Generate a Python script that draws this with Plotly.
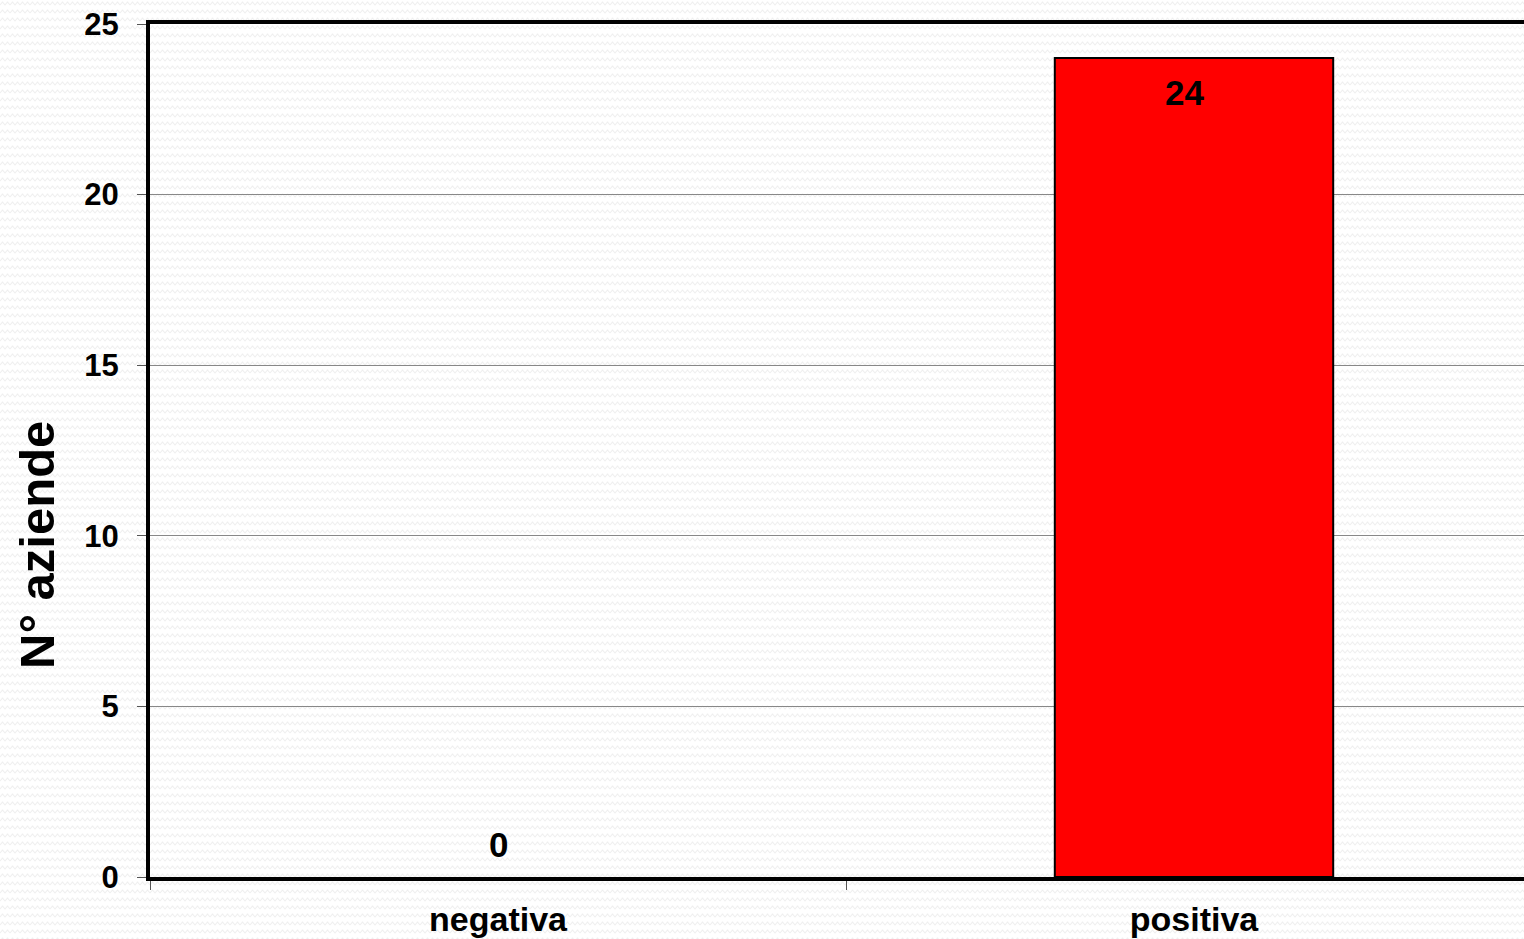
import base64
import plotly.graph_objects as go

categories = ["negativa", "positiva"]
values = [0, 24]
y_ticks = [0, 5, 10, 15, 20, 25]
y_title = "N° aziende"

W, H = 1524, 939
L, R, T, B = 150, 0, 24, 62
pw, ph = W - L - R, H - T - B

# faint zigzag background texture
svg = (
    '<svg xmlns="http://www.w3.org/2000/svg" width="1524" height="939">'
    '<defs><pattern id="p" width="10" height="8" patternUnits="userSpaceOnUse">'
    '<rect width="10" height="8" fill="#ffffff"/>'
    '<path d="M0 5 L2.5 2 L5 5 L7.5 2 L10 5" fill="none" stroke="#efefef" stroke-width="1.1"/>'
    '</pattern></defs><rect width="1524" height="939" fill="url(#p)"/></svg>'
)
bg_src = "data:image/svg+xml;base64," + base64.b64encode(svg.encode()).decode()

fig = go.Figure()
fig.add_trace(go.Bar(
    x=categories, y=values, width=0.4,
    marker=dict(color="#FF0000",
                line=dict(color="#000000", width=[2 if v > 0 else 0 for v in values])),
    hoverinfo="skip",
))

font = "Liberation Sans, Arial, sans-serif"
annotations = []
for c, v in zip(categories, values):
    annotations.append(dict(
        x=c, y=v, xref="x", yref="y", text="<b>%d</b>" % v, showarrow=False,
        yanchor="middle", yshift=(-34 if v > 0 else 33), xshift=(-10 if v > 0 else 0),
        font=dict(family=font, size=35, color="#000000"),
    ))
annotations.append(dict(
    x=(37 - L) / pw, y=(H - B - 545) / ph, xref="paper", yref="paper",
    text="<b>%s</b>" % y_title, textangle=-90, showarrow=False,
    xanchor="center", yanchor="middle",
    font=dict(family=font, size=49, color="#000000"),
))

fig.update_layout(
    width=W, height=H,
    margin=dict(l=L, r=R, t=T, b=B, pad=0),
    paper_bgcolor="#ffffff", plot_bgcolor="#ffffff",
    showlegend=False,
    annotations=annotations,
    images=[dict(source=bg_src, xref="paper", yref="paper",
                 x=-L / pw, y=1 + T / ph, sizex=W / pw, sizey=H / ph,
                 sizing="stretch", xanchor="left", yanchor="top", layer="below")],
)
fig.update_xaxes(
    type="category", range=[-0.5, -0.5 + pw / 696],
    showline=True, linecolor="#000000", linewidth=4, mirror=True,
    ticks="outside", tickson="boundaries", ticklen=9, tickcolor="#555555", tickwidth=1,
    showgrid=False, zeroline=False,
    tickfont=dict(family=font, size=34, color="#000000"),
    ticklabelstandoff=9,
    tickprefix="<b>", ticksuffix="</b>",
)
fig.update_yaxes(
    range=[0, 25], tickvals=y_ticks, ticktext=["<b>%d</b>" % t for t in y_ticks],
    showline=True, linecolor="#000000", linewidth=4, mirror=False,
    ticks="outside", ticklen=9, tickcolor="#555555", tickwidth=1,
    showgrid=True, gridcolor="#888888", gridwidth=1, zeroline=False,
    tickfont=dict(family=font, size=31, color="#000000"),
    ticklabelstandoff=12,
)

fig.write_html(
    "out.html",
    config={"displayModeBar": False},
    post_script="document.body.style.margin='0';document.body.style.overflow='hidden';",
)
